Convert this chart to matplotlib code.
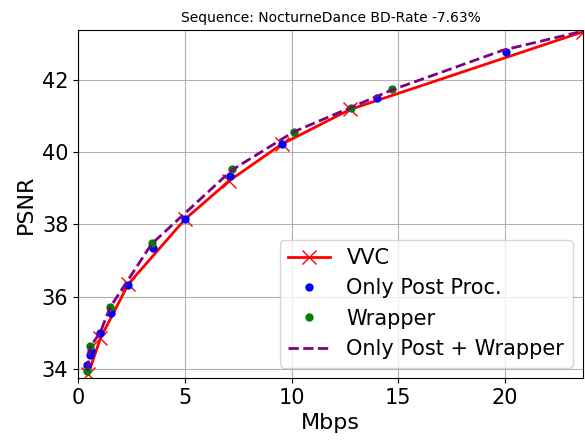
import matplotlib
matplotlib.use("Agg")
import matplotlib.pyplot as plt

# rate (Mbps) / PSNR points
vvc_rate = [0.48, 1.05, 2.36, 5.01, 7.07, 9.54, 12.74, 23.65]
vvc_psnr = [33.85, 34.85, 36.35, 38.14, 39.20, 40.22, 41.18, 43.33]

post_rate = [0.44, 0.56, 0.61, 1.03, 1.53, 2.36, 3.53, 5.01, 7.12, 9.54, 13.99, 20.05]
post_psnr = [34.11, 34.39, 34.50, 34.99, 35.54, 36.32, 37.34, 38.14, 39.34, 40.22, 41.50, 42.77]

wrap_rate = [0.44, 0.56, 1.50, 3.45, 7.23, 10.10, 12.77, 14.72]
wrap_psnr = [33.93, 34.64, 35.72, 37.48, 39.53, 40.57, 41.21, 41.76]

both_rate = [0.44, 0.59, 1.05, 1.50, 3.45, 7.20, 10.10, 14.70, 19.90, 23.65]
both_psnr = [33.95, 34.62, 35.02, 35.70, 37.46, 39.50, 40.56, 41.72, 42.82, 43.35]

fig = plt.figure(figsize=(5.85, 4.41), dpi=100)
ax = fig.add_axes([0.1333, 0.143, 0.8633, 0.789])

ax.plot(vvc_rate, vvc_psnr, color="red", marker="x", markersize=10, linewidth=2, label="VVC")
ax.plot(post_rate, post_psnr, color="blue", marker="o", markersize=5, linestyle="none", label="Only Post Proc.")
ax.plot(wrap_rate, wrap_psnr, color="green", marker="o", markersize=5, linestyle="none", label="Wrapper")
ax.plot(both_rate, both_psnr, color="purple", linestyle="--", linewidth=2, label="Only Post + Wrapper")

ax.set_xlim(0, 23.65)
ax.set_ylim(33.75, 43.38)
ax.set_xticks([0, 5, 10, 15, 20])
ax.set_yticks([34, 36, 38, 40, 42])
ax.tick_params(labelsize=15)
ax.grid(True)
ax.set_xlabel("Mbps", fontsize=16)
ax.set_ylabel("PSNR", fontsize=16)
ax.set_title("Sequence: NocturneDance BD-Rate -7.63%", fontsize=10)
ax.legend(loc="lower right", fontsize=15)

fig.savefig("out.png")
